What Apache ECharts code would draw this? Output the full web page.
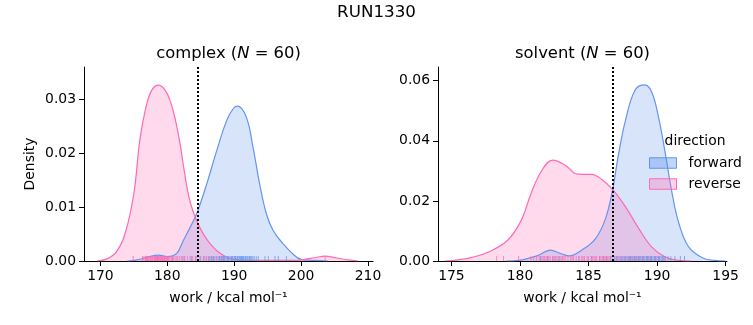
<!DOCTYPE html>
<html>
<head>
<meta charset="utf-8">
<script src="https://cdn.jsdelivr.net/npm/echarts@6/dist/echarts.min.js"></script>
<style>html,body{margin:0;padding:0;background:#fff}#c{width:753px;height:325px}</style>
</head>
<body>
<div id="c"></div>
<script>
// ---- data ----
const complexFwdX = [174, 175.5, 177, 178.7, 180, 181.4, 182.4, 183.4, 184.4, 185.9, 187.4, 188.9, 189.9, 190.5, 191.8, 192.8, 193.8, 194.8, 195.8, 197.3, 198.7, 200, 202, 204];
const complexFwdY = [0, 0.0002, 0.0007, 0.0011, 0.0008, 0.0014, 0.0038, 0.0062, 0.0088, 0.0143, 0.0205, 0.0261, 0.0283, 0.0287, 0.0267, 0.0212, 0.0143, 0.0088, 0.0057, 0.0032, 0.0014, 0.0003, 0.0001, 0];
const complexRevX = [169.5, 171, 172.4, 173.7, 175.0, 175.9, 176.95, 177.8, 178.7, 179.6, 180.4, 181.2, 181.9, 182.5, 183.2, 183.9, 184.7, 185.5, 186.4, 187.5, 188.9, 190.5, 193, 196, 199, 200.5, 202, 203.6, 205.2, 207, 208.5];
const complexRevY = [0, 0.0004, 0.0017, 0.0051, 0.0125, 0.0224, 0.0292, 0.0319, 0.0326, 0.0318, 0.0298, 0.0262, 0.0218, 0.0170, 0.0120, 0.0090, 0.0066, 0.0048, 0.0032, 0.0018, 0.0007, 0.0002, 0.0001, 0.0001, 0.0001, 0.0003, 0.0006, 0.0009, 0.0006, 0.0002, 0];
const solventFwdX = [179, 179.9, 181.3, 182.2, 183.0, 183.6, 184.5, 185.5, 186.2, 186.7, 187.2, 187.7, 188.4, 189.1, 189.6, 190.1, 190.6, 191.1, 191.6, 192.3, 193.3, 194.2, 195];
const solventFwdY = [0, 0.0002, 0.0018, 0.0036, 0.0024, 0.0017, 0.0036, 0.0074, 0.0136, 0.0224, 0.0358, 0.0469, 0.0569, 0.0586, 0.0563, 0.048, 0.0358, 0.0224, 0.0124, 0.0047, 0.0011, 0.0002, 0];
const solventRevX = [174.5, 175.5, 176.5, 177.7, 179.1, 180.1, 180.8, 181.6, 182.4, 183.3, 184.2, 185.2, 185.9, 186.8, 187.7, 188.6, 189.6, 190.6, 191.6, 192.5];
const solventRevY = [0, 0.0004, 0.0012, 0.0030, 0.0069, 0.0136, 0.0224, 0.0302, 0.0336, 0.0319, 0.0289, 0.0288, 0.0274, 0.0236, 0.0180, 0.0113, 0.0047, 0.0013, 0.0002, 0];

const complexRevRug = [174.9, 176.3, 176.5, 176.7, 176.9, 177.0, 177.2, 177.4, 177.5, 177.7, 177.8, 178.0, 178.1, 178.2, 178.4, 178.5, 178.6, 178.7, 178.8, 179.0, 179.1, 179.2, 179.3, 179.5, 179.6, 179.8, 179.9, 180.0, 180.2, 180.4, 180.6, 180.8, 181.0, 181.3, 181.8, 182.1, 182.6, 183.0, 183.4, 184.2, 185.0, 185.5, 186.2, 186.8, 187.4, 178.3, 177.1, 178.9, 179.4, 176.8, 180.1, 177.6, 179.7, 178.15, 181.5, 182.3, 183.8, 185.9, 188.3, 203.6];
const complexFwdRug = [178.5, 180.8, 182.5, 183.6, 184.3, 184.9, 185.4, 185.8, 186.2, 186.6, 187.0, 187.3, 187.6, 187.9, 188.2, 188.4, 188.6, 188.8, 189.0, 189.2, 189.4, 189.6, 189.8, 190.0, 190.2, 190.4, 190.6, 190.8, 191.0, 191.2, 191.4, 191.6, 191.8, 192.0, 192.2, 192.4, 192.6, 192.8, 193.0, 193.3, 193.6, 194.6, 195.1, 196.1, 196.6, 197.8, 189.1, 190.1, 190.5, 191.1, 188.5, 187.8, 186.9, 190.9, 191.7, 192.3, 189.7, 186.4, 188.1, 191.3];
const solventRevRug = [178.3, 178.8, 179.9, 180.8, 181.0, 181.2, 181.4, 181.6, 181.8, 181.9, 182.1, 182.2, 182.4, 182.5, 182.7, 182.8, 183.0, 183.2, 183.3, 183.5, 183.7, 183.9, 184.1, 184.3, 184.5, 184.7, 184.9, 185.0, 185.2, 185.3, 185.5, 185.6, 185.8, 185.9, 186.1, 186.2, 186.4, 186.5, 186.7, 187.0, 187.3, 187.6, 187.9, 188.1, 188.4, 188.7, 189.0, 189.4, 189.9, 190.5, 181.7, 182.0, 182.6, 183.1, 183.8, 184.6, 185.4, 186.0, 186.3, 187.2];
const solventFwdRug = [181.5, 182.0, 182.4, 182.9, 184.3, 185.2, 185.8, 186.3, 186.6, 186.9, 187.1, 187.3, 187.5, 187.6, 187.8, 187.9, 188.0, 188.1, 188.2, 188.3, 188.4, 188.5, 188.6, 188.7, 188.8, 188.9, 189.0, 189.1, 189.2, 189.3, 189.4, 189.5, 189.6, 189.7, 189.8, 189.9, 190.0, 190.1, 190.2, 190.3, 190.4, 190.5, 190.6, 190.8, 191.0, 191.3, 191.7, 192.0, 187.4, 187.7, 188.05, 188.35, 188.65, 188.95, 189.25, 189.55, 189.85, 190.15, 186.1, 187.05];

const complexXTicks = [170, 180, 190, 200, 210];
const complexYTicks = [0, 0.01, 0.02, 0.03];
const solventXTicks = [175, 180, 185, 190, 195];
const solventYTicks = [0, 0.02, 0.04, 0.06];
const complexLine = 184.5;
const solventLine = 186.8;
const complexN = 60, solventN = 60;

// ---- styling ----
const BLUE = '#6495ED', PINK = '#FF69B4';
const FONT = 'DejaVu Sans';
const zip = (xs, ys) => xs.map((x, i) => [x, ys[i]]);
const rug = xs => xs.map(x => [x, 0]);

function xAxis(idx, min, max, ticks) {
  return {
    type: 'value', gridIndex: idx, min, max,
    name: 'work / kcal mol\u207B\u00B9', nameLocation: 'middle', nameGap: 30,
    nameTextStyle: {fontFamily: FONT, fontSize: 13.9, color: '#000'},
    axisLine: {onZero: false, lineStyle: {color: '#000', width: 1}},
    axisTick: {show: true, length: 5, customValues: ticks, lineStyle: {color: '#000', width: 1}},
    axisLabel: {customValues: ticks, color: '#000', fontFamily: FONT, fontSize: 13.9, margin: 8},
    splitLine: {show: false}
  };
}
function yAxis(idx, max, ticks, name) {
  return {
    type: 'value', gridIndex: idx, min: 0, max,
    name: name || '', nameLocation: 'middle', nameGap: 47,
    nameTextStyle: {fontFamily: FONT, fontSize: 13.9, color: '#000'},
    axisLine: {show: true, onZero: false, lineStyle: {color: '#000', width: 1}},
    axisTick: {show: true, length: 5, customValues: ticks, lineStyle: {color: '#000', width: 1}},
    axisLabel: {customValues: ticks, formatter: v => v.toFixed(2), color: '#000', fontFamily: FONT, fontSize: 13.9, margin: 8},
    splitLine: {show: false}
  };
}
function kde(name, idx, data, color, fill, markX) {
  const s = {
    name, type: 'line', xAxisIndex: idx, yAxisIndex: idx, data, smooth: 0.4,
    showSymbol: false, symbol: 'none', silent: true,
    lineStyle: {color, width: 1.2}, itemStyle: {color},
    areaStyle: {color: fill, opacity: 1}, z: 2
  };
  if (markX !== undefined) {
    s.markLine = {
      silent: true, symbol: ['none', 'none'], label: {show: false},
      lineStyle: {color: '#000', width: 2, type: [2, 2]},
      data: [{xAxis: markX}], z: 10
    };
  }
  return s;
}
function rugSeries(name, idx, data, color) {
  return {
    name, type: 'scatter', xAxisIndex: idx, yAxisIndex: idx, data,
    symbol: 'rect', symbolSize: [1, 5], symbolOffset: [0, -2.5],
    itemStyle: {color, opacity: 0.75}, silent: true, z: 3, clip: false
  };
}

const blueFill = 'rgba(100,149,237,0.25)', pinkFill = 'rgba(255,105,180,0.25)';

const option = {
  animation: false,
  textStyle: {fontFamily: FONT},
  grid: [
    {left: 84, right: 380, top: 67, bottom: 64},
    {left: 438, right: 26, top: 67, bottom: 64}
  ],
  xAxis: [xAxis(0, 167.55, 210.75, complexXTicks), xAxis(1, 174.02, 195.1, solventXTicks)],
  yAxis: [yAxis(0, 0.03594, complexYTicks, 'Density'), yAxis(1, 0.06457, solventYTicks)],
  legend: {
    orient: 'vertical', left: 649, top: 156, padding: 0,
    itemWidth: 27, itemHeight: 10.5, itemGap: 7,
    textStyle: {fontFamily: FONT, fontSize: 13.9, color: '#000', padding: [0, 0, 0, 7]},
    selectedMode: false,
    data: [
      {name: 'forward', icon: 'rect', itemStyle: {color: 'rgba(100,149,237,0.4)', borderColor: BLUE, borderWidth: 1}},
      {name: 'reverse', icon: 'rect', itemStyle: {color: 'rgba(255,105,180,0.3)', borderColor: PINK, borderWidth: 1}}
    ]
  },
  graphic: [
    {type: 'text', x: 376.5, y: 13, style: {text: 'RUN1330', font: '16.7px "DejaVu Sans"', fill: '#000', textAlign: 'center', textVerticalAlign: 'middle'}},
    {type: 'text', x: 228.5, y: 54, style: {
      text: 'complex ({i|N} = ' + complexN + ')', font: '16.4px "DejaVu Sans"', fill: '#000', textAlign: 'center', textVerticalAlign: 'middle',
      rich: {i: {fontStyle: 'italic', fontSize: 16.4, fontFamily: FONT}}}},
    {type: 'text', x: 582.5, y: 54, style: {
      text: 'solvent ({i|N} = ' + solventN + ')', font: '16.4px "DejaVu Sans"', fill: '#000', textAlign: 'center', textVerticalAlign: 'middle',
      rich: {i: {fontStyle: 'italic', fontSize: 16.4, fontFamily: FONT}}}},
    {type: 'text', x: 695, y: 141.5, style: {text: 'direction', font: '13.9px "DejaVu Sans"', fill: '#000', textAlign: 'center', textVerticalAlign: 'middle'}}
  ],
  series: [
    kde('forward', 0, zip(complexFwdX, complexFwdY), BLUE, blueFill, complexLine),
    kde('reverse', 0, zip(complexRevX, complexRevY), PINK, pinkFill),
    kde('forward', 1, zip(solventFwdX, solventFwdY), BLUE, blueFill, solventLine),
    kde('reverse', 1, zip(solventRevX, solventRevY), PINK, pinkFill),
    rugSeries('forward', 0, rug(complexFwdRug), BLUE),
    rugSeries('reverse', 0, rug(complexRevRug), PINK),
    rugSeries('forward', 1, rug(solventFwdRug), BLUE),
    rugSeries('reverse', 1, rug(solventRevRug), PINK)
  ]
};
echarts.init(document.getElementById('c')).setOption(option);
</script>
</body>
</html>
